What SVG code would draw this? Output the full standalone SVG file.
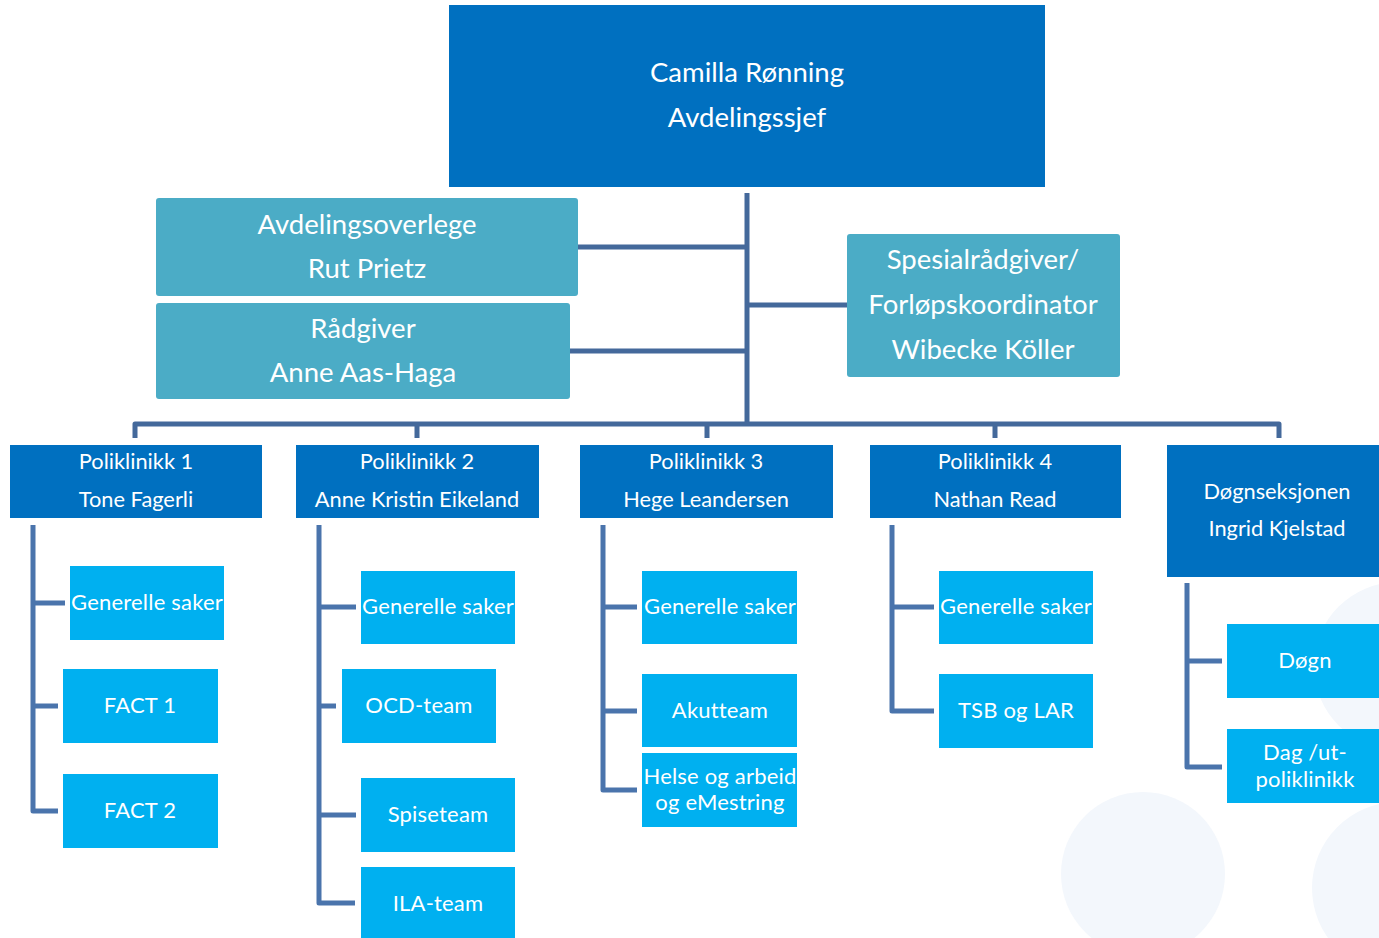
<svg xmlns="http://www.w3.org/2000/svg" width="1379" height="938" viewBox="0 0 1379 938">
<style>
text{font-family:Lato,"Open Sans","Liberation Sans",sans-serif;fill:#fff;text-anchor:middle}
.big{font-size:27.5px}
.mid{font-size:21.8px}
.sm{font-size:22px;letter-spacing:0.2px}
.dark{fill:#0070C0}
.teal{fill:#4BACC6}
.light{fill:#00B0F0}
.conn{fill:none;stroke:#44699B;stroke-width:5;stroke-linejoin:round}
.conn2{fill:none;stroke:#4A74AC;stroke-width:5;stroke-linejoin:round}
.bg{fill:#F3F7FC}
</style>
<rect width="1379" height="938" fill="#fff"/>
<g id="background">
<circle class="bg" cx="1143" cy="874" r="82"/>
<circle class="bg" cx="1398" cy="888" r="86"/>
<circle class="bg" cx="1398" cy="666" r="84"/>
</g>
<g id="connectors">
<path class="conn" d="M747 193V424"/>
<path class="conn" d="M578 247H747M570 351H747M747 305H847"/>
<path class="conn" d="M135 438V424H1279V438M417 424V438M707 424V438M995 424V438"/>
<path class="conn2" d="M33 525V811H58M33 603H65M33 706H58"/>
<path class="conn2" d="M319 525V903H355M319 607H356M319 706H336M319 815H356"/>
<path class="conn2" d="M603 525V790H637M603 607H637M603 711H637"/>
<path class="conn2" d="M892 525V711H934M892 607H934"/>
<path class="conn2" d="M1187 583V767H1222M1187 661H1222"/>
</g>
<g id="n-top"><rect class="dark" x="449" y="5" width="596" height="182"/><text class="big" x="747" y="82">Camilla Rønning</text><text class="big" x="747" y="127">Avdelingssjef</text></g>
<g id="n-overlege"><rect class="teal" x="156" y="198" width="422" height="98" rx="3"/><text class="big" x="367" y="234">Avdelingsoverlege</text><text class="big" x="367" y="278">Rut Prietz</text></g>
<g id="n-radgiver"><rect class="teal" x="156" y="303" width="414" height="96" rx="3"/><text class="big" x="363" y="338">Rådgiver</text><text class="big" x="363" y="382">Anne Aas-Haga</text></g>
<g id="n-spesial"><rect class="teal" x="847" y="234" width="273" height="143" rx="3"/><text class="big" x="983" y="269">Spesialrådgiver/</text><text class="big" x="983" y="314">Forløpskoordinator</text><text class="big" x="983" y="359">Wibecke Köller</text></g>
<g id="n-p1"><rect class="dark" x="10" y="445" width="252" height="73"/><text class="mid" x="136" y="469">Poliklinikk 1</text><text class="mid" x="136" y="507">Tone Fagerli</text></g>
<g id="n-p2"><rect class="dark" x="296" y="445" width="243" height="73"/><text class="mid" x="417" y="469">Poliklinikk 2</text><text class="mid" x="417" y="507">Anne Kristin Eikeland</text></g>
<g id="n-p3"><rect class="dark" x="580" y="445" width="253" height="73"/><text class="mid" x="706" y="469">Poliklinikk 3</text><text class="mid" x="706" y="507">Hege Leandersen</text></g>
<g id="n-p4"><rect class="dark" x="870" y="445" width="251" height="73"/><text class="mid" x="995" y="469">Poliklinikk 4</text><text class="mid" x="995" y="507">Nathan Read</text></g>
<g id="n-dogns"><rect class="dark" x="1167" y="445" width="212" height="132"/><text class="mid" x="1277" y="499">Døgnseksjonen</text><text class="mid" x="1277" y="536">Ingrid Kjelstad</text></g>
<g id="n-p1-gen"><rect class="light" x="70" y="566" width="154" height="74"/><text class="sm" x="147" y="610">Generelle saker</text></g>
<g id="n-fact1"><rect class="light" x="63" y="669" width="155" height="74"/><text class="sm" x="140" y="713">FACT 1</text></g>
<g id="n-fact2"><rect class="light" x="63" y="774" width="155" height="74"/><text class="sm" x="140" y="818">FACT 2</text></g>
<g id="n-p2-gen"><rect class="light" x="361" y="571" width="154" height="73"/><text class="sm" x="438" y="614">Generelle saker</text></g>
<g id="n-ocd"><rect class="light" x="342" y="669" width="154" height="74"/><text class="sm" x="419" y="713">OCD-team</text></g>
<g id="n-spise"><rect class="light" x="361" y="778" width="154" height="74"/><text class="sm" x="438" y="822">Spiseteam</text></g>
<g id="n-ila"><rect class="light" x="361" y="867" width="154" height="71"/><text class="sm" x="438" y="911">ILA-team</text></g>
<g id="n-p3-gen"><rect class="light" x="642" y="571" width="155" height="73"/><text class="sm" x="720" y="614">Generelle saker</text></g>
<g id="n-akutt"><rect class="light" x="642" y="674" width="155" height="73"/><text class="sm" x="720" y="718">Akutteam</text></g>
<g id="n-helse"><rect class="light" x="642" y="753" width="155" height="74"/><text class="sm" x="720" y="784">Helse og arbeid</text><text class="sm" x="720" y="810">og eMestring</text></g>
<g id="n-p4-gen"><rect class="light" x="939" y="571" width="154" height="73"/><text class="sm" x="1016" y="614">Generelle saker</text></g>
<g id="n-tsb"><rect class="light" x="939" y="674" width="154" height="74"/><text class="sm" x="1016" y="718">TSB og LAR</text></g>
<g id="n-dogn"><rect class="light" x="1227" y="624" width="152" height="74"/><text class="sm" x="1305" y="668">Døgn</text></g>
<g id="n-dag"><rect class="light" x="1227" y="729" width="152" height="74"/><text class="sm" x="1305" y="760">Dag /ut-</text><text class="sm" x="1305" y="787">poliklinikk</text></g>
</svg>
